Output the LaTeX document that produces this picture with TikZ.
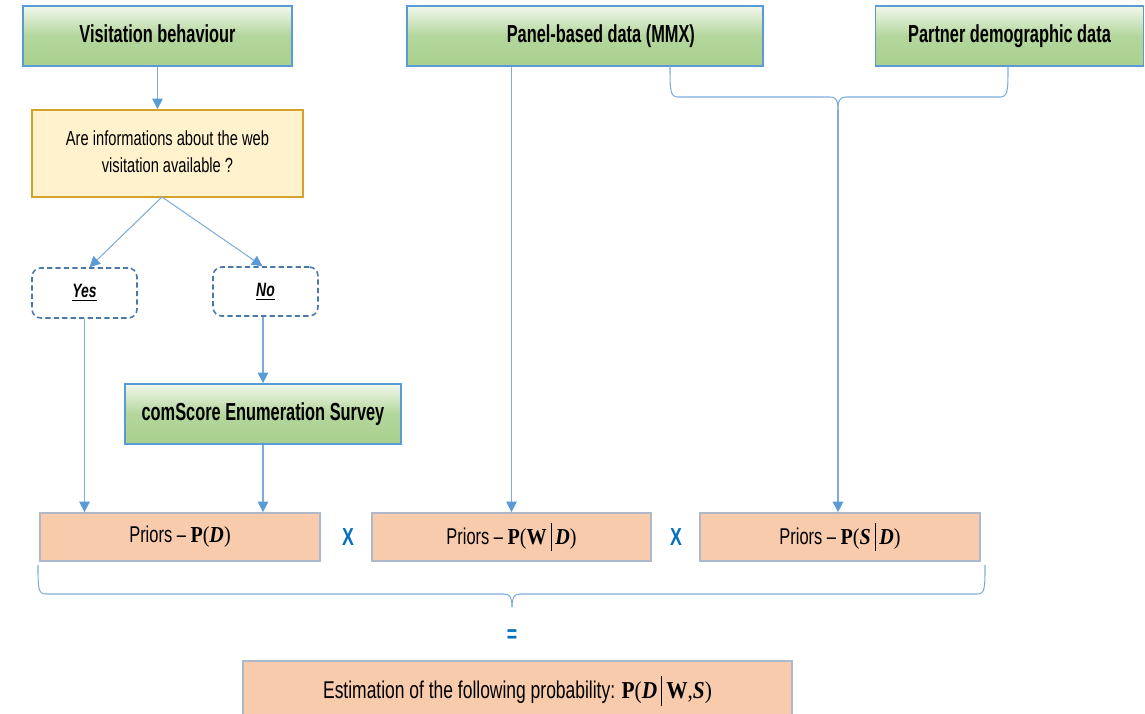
\documentclass[tikz,border=0pt]{standalone}
\usepackage{fontspec}
\setmainfont{Liberation Sans}[FakeStretch=0.72]
\newfontfamily\narrowbold{Liberation Sans}[FakeStretch=0.665]
\newfontfamily\serf{Liberation Serif}[FakeStretch=0.88]
\usetikzlibrary{arrows.meta,calc}
\definecolor{gtop}{HTML}{F1F8EC}
\definecolor{gbot}{HTML}{A9D08E}
\definecolor{gborder}{HTML}{5B9BD5}
\definecolor{qfill}{HTML}{FFF2CC}
\definecolor{qborder}{HTML}{D4A22A}
\definecolor{dborder}{HTML}{4A79A8}
\definecolor{pfill}{HTML}{F8CBAD}
\definecolor{pborder}{HTML}{ADB9CA}
\definecolor{lineblue}{HTML}{7EADDC}
\definecolor{tipblue}{HTML}{5B9BD5}
\definecolor{xblue}{HTML}{0070C0}
\newcommand{\Pb}{\textbf{P}}
\newcommand{\bi}[1]{\textbf{\textit{#1}}}
\newcommand{\vbar}{\,\rule[-0.28em]{0.55pt}{1.2em}\,}
\begin{document}
\begin{tikzpicture}[x=0.02cm,y=-0.02cm,
  gbox/.style={draw=gborder,line width=1pt,top color=gtop,bottom color=gbot,middle color=gbot!85!gtop,
    inner sep=0pt,minimum height=1.2cm,font=\narrowbold\bfseries\fontsize{14}{16}\selectfont},
  qbox/.style={draw=qborder,line width=1pt,fill=qfill,inner sep=0pt,align=center,
    font=\fontsize{11.6}{16.2}\selectfont},
  dbox/.style={draw=dborder,line width=0.9pt,dashed,dash pattern=on 3pt off 1.8pt,rounded corners=5pt,
    fill=white,inner sep=0pt,minimum width=2.1cm,minimum height=1cm,font=\bfseries\itshape\fontsize{11}{13}\selectfont},
  pbox/.style={draw=pborder,line width=1pt,fill=pfill,inner sep=0pt,minimum width=5.6cm,minimum height=0.96cm,
    font=\fontsize{13}{15}\selectfont},
  conn/.style={draw=lineblue,line width=0.6pt},
  arr/.style={conn,-{Triangle[width=6pt,length=6pt,color=tipblue]}},
  opsym/.style={text=xblue,font=\bfseries\fontsize{14}{16}\selectfont,inner sep=0pt},
]
\useasboundingbox (0,0) rectangle (1145,713);

% top data boxes
\node[gbox,minimum width=5.38cm] (vis) at (157.5,36) {\raisebox{2.5pt}{Visitation behaviour}};
\node[gbox,minimum width=7.12cm] (panel) at (585,36) {\hspace{18pt}\raisebox{2.5pt}{Panel-based data (MMX)}};
\node[gbox,minimum width=5.36cm] (partner) at (1009.5,36) {\raisebox{2.5pt}{Partner demographic data}};

% question
\node[qbox,minimum width=5.42cm,minimum height=1.74cm] (q) at (167.5,153.5)
  {\raisebox{3pt}{\begin{tabular}{@{}c@{}}Are informations about the web\\[-0.5pt]visitation available ?\end{tabular}}};

% yes / no
\node[dbox] (yes) at (84.5,293) {\underline{Yes}};
\node[dbox,minimum height=0.98cm] (no) at (265.5,291.5) {\underline{No}};

% comScore
\node[gbox,minimum width=5.52cm] (cs) at (263,414) {\raisebox{1pt}{comScore Enumeration Survey}};

% priors
\node[pbox] (pd) at (180,537) {Priors -- {\serf\Pb(\bi{D})}};
\node[pbox,minimum width=5.58cm] (pw) at (511.5,537) {Priors -- {\serf\Pb(\textbf{W}\vbar\bi{D})}};
\node[pbox] (ps) at (840,537) {Priors -- {\serf\Pb(\bi{S}\vbar\bi{D})}};
\node[opsym] (x1) at (348,537) {X};
\node[opsym] (x2) at (676,537) {X};

% equals and estimation
\node[opsym] (eq) at (512,636) {=};
\node[pbox,minimum width=10.98cm,minimum height=1.2cm,font=\fontsize{13.8}{16}\selectfont] (est) at (517.5,691)
  {\raisebox{2pt}{Estimation of the following probability: {\serf\Pb(\bi{D}\vbar\textbf{W},\bi{S})}}};

% connectors
\draw[arr] (vis.south) -- (vis.south |- q.north);
\coordinate (qs) at (162,197);
\draw[arr] (qs) -- ($(yes.north)+(5,0)$);
\draw[arr] (qs) -- ($(no.north)+(-3,0)$);
\draw[arr] (yes.south) -- (yes.south |- pd.north);
\draw[arr] (cs.north |- no.south) -- (cs.north);
\draw[arr] (cs.south) -- (cs.south |- pd.north);
\draw[arr] (pw.north |- panel.south) -- (pw.north);

% top brace joining panel and partner data
\coordinate (bl) at (670,66);
\coordinate (br) at (1008,66);
\coordinate (bt) at (838,110);
\draw[conn] (bl) .. controls (670,90) and (670,97) .. (678,97) -- (830,97)
  .. controls (836,97) and (838,100) .. (bt);
\draw[conn] (br) .. controls (1008,90) and (1008,97) .. (1000,97) -- (846,97)
  .. controls (840,97) and (838,100) .. (bt);
\draw[arr] (bt) -- (bt |- ps.north);

% bottom brace
\coordinate (cl) at (38,565);
\coordinate (cr) at (985,565);
\coordinate (ct) at (512,607);
\draw[conn] (cl) .. controls (38,588) and (38,594) .. (46,594) -- (504,594)
  .. controls (510,594) and (512,598) .. (ct);
\draw[conn] (cr) .. controls (985,588) and (985,594) .. (977,594) -- (520,594)
  .. controls (514,594) and (512,598) .. (ct);
\end{tikzpicture}
\end{document}
